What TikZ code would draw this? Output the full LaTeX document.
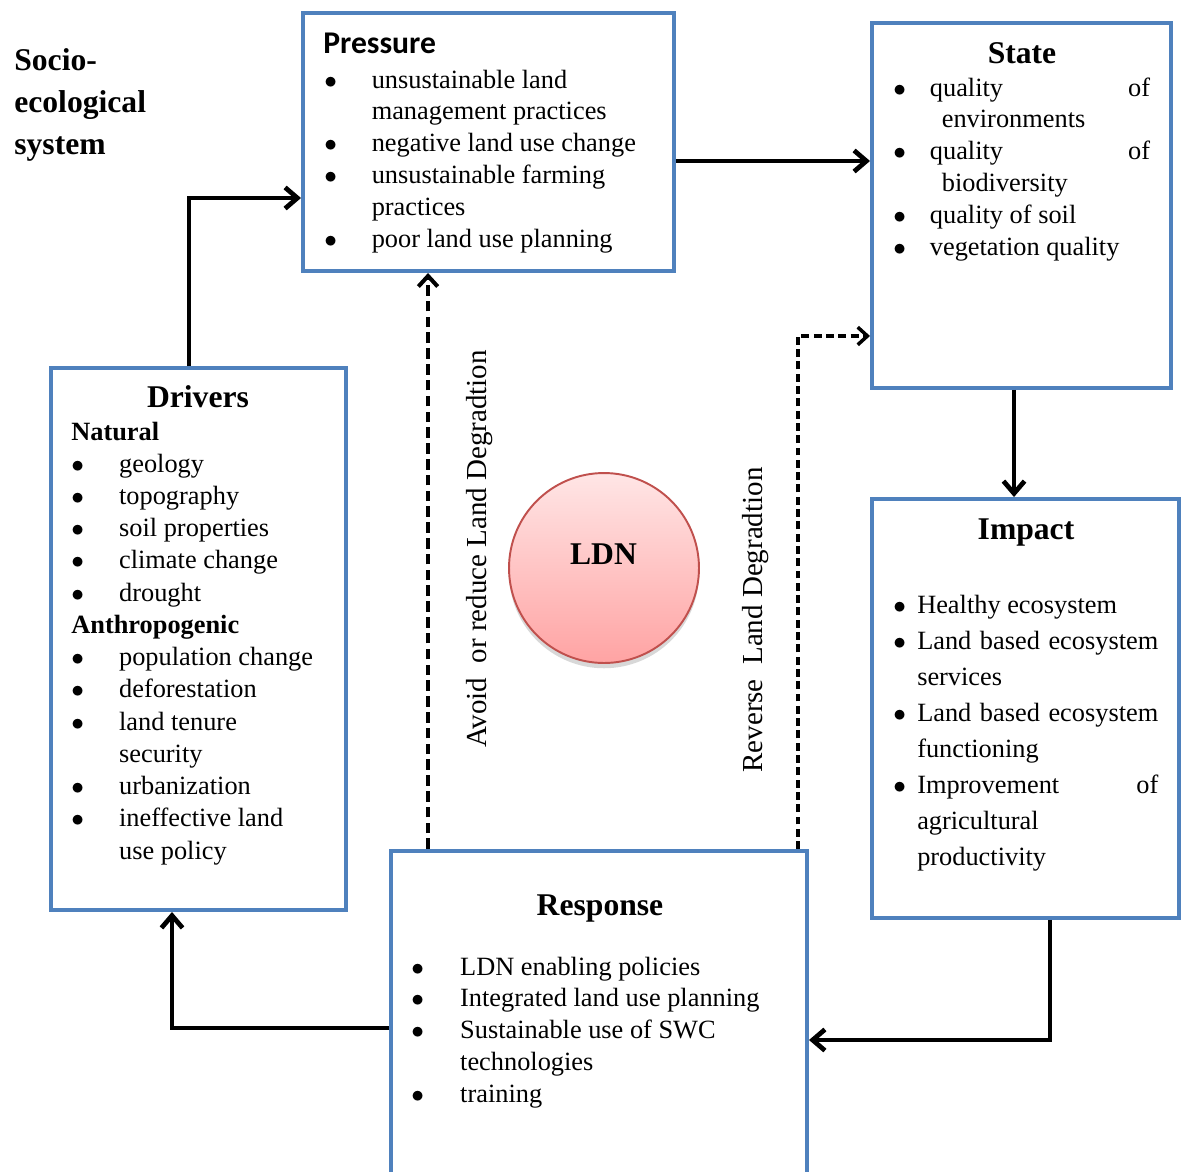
\documentclass[tikz,border=0pt]{standalone}
\usepackage{fontspec}
\setmainfont{Liberation Serif}
\newfontfamily\calibrifont{Carlito}
\usetikzlibrary{arrows.meta, calc, shadows}
\definecolor{boxblue}{HTML}{4F81BD}
\definecolor{ldnborder}{HTML}{C0504D}
\newcommand{\bodyfont}{\fontsize{15}{18.2}\selectfont}
\newcommand{\headfont}{\fontsize{18}{21}\selectfont\bfseries}
% the round bullet of the lists
\newcommand{\blt}{$\bullet$}
% bullet rows: width of the bullet column, then the rows
\newcommand{\bulletrows}[2]{\begin{tabular}[t]{@{}p{#1}@{}l@{}}#2\end{tabular}}

\tikzset{
  dpsrbox/.style={draw=boxblue, line width=2.3pt, fill=white, inner sep=0pt},
  boxtext/.style={font=\bodyfont, inner sep=0pt, anchor=base west},
  boxtitle/.style={font=\headfont, inner sep=0pt, anchor=base},
  flow/.style={line width=2.7pt, -{Straight Barb[length=7pt, width=12pt]}},
  avoidflow/.style={line width=2.3pt, dash pattern=on 6pt off 3pt,
    -{Straight Barb[length=6pt, width=11pt]}},
  reverseflow/.style={line width=2pt, dash pattern=on 4.5pt off 2.5pt,
    -{Straight Barb[length=5.5pt, width=10pt]}},
  ldncircle/.style={circle, draw=ldnborder, line width=1.1pt, minimum size=3.8cm,
    top color=red!10, bottom color=red!36,
    drop shadow={shadow xshift=0pt, shadow yshift=-3pt, opacity=0.3}},
}

\begin{document}
\begin{tikzpicture}[x=0.02cm, y=-0.02cm]

  % Page of 1183 by 1171 units, top left at the origin, y running down.
  \fill[white] (0,0) rectangle (1183,1171);
  \useasboundingbox (0,0) rectangle (1183,1171);

  % The five DPSIR boxes.
  \node[dpsrbox, minimum width=7.42cm, minimum height=5.16cm] (pressure) at (488.5,142) {};
  \node[dpsrbox, minimum width=5.98cm, minimum height=7.30cm] (state) at (1021.5,205.5) {};
  \node[dpsrbox, minimum width=6.14cm, minimum height=8.38cm] (impact) at (1025.5,708.5) {};
  \node[dpsrbox, minimum width=8.32cm, minimum height=6.78cm] (response) at (599,1020.5) {};
  \node[dpsrbox, minimum width=5.90cm, minimum height=10.84cm] (drivers) at (198.5,639) {};

  \node[font=\fontsize{18}{24.1}\selectfont\bfseries, inner sep=0pt, anchor=base west] (system) at (14,70)
    {\begin{tabular}[t]{@{}l@{}}Socio-\\ecological\\system\end{tabular}};

  % Pressure
  \node[boxtitle, anchor=base west] (pressuretitle) at (323,53) {\calibrifont Pressure};
  \node[boxtext] (pressuretext) at (324,88) {\bulletrows{27pt}{%
    \blt & unsustainable land\\
         & management practices\\
    \blt & negative land use change\\
    \blt & unsustainable farming\\
         & practices\\
    \blt & poor land use planning}};

  % State
  \node[boxtitle] (statetitle) at (1022,63) {State};
  \node[boxtext] (statetext) at (893,96) {\bulletrows{20.8pt}{%
    \blt & \makebox[125.3pt][s]{quality of}\\
         & \hspace*{6.8pt}environments\\
    \blt & \makebox[125.3pt][s]{quality of}\\
         & \hspace*{6.8pt}biodiversity\\
    \blt & quality of soil\\
    \blt & vegetation quality}};

  % Impact
  \node[boxtitle] (impacttitle) at (1026,539) {Impact};
  \node[boxtext, font=\fontsize{15}{20.5}\selectfont] (impacttext) at (893,613) {\bulletrows{13.6pt}{%
    \blt & Healthy ecosystem\\
    \blt & \makebox[137.2pt][s]{Land based ecosystem}\\
         & services\\
    \blt & \makebox[137.2pt][s]{Land based ecosystem}\\
         & functioning\\
    \blt & \makebox[137.2pt][s]{Improvement of}\\
         & agricultural\\
         & productivity}};

  % Response
  \node[boxtitle] (responsetitle) at (600,915) {Response};
  \node[boxtext] (responsetext) at (411,975) {\bulletrows{27.8pt}{%
    \blt & LDN enabling policies\\
    \blt & Integrated land use planning\\
    \blt & Sustainable use of SWC\\
         & technologies\\
    \blt & training}};

  % Drivers
  \node[boxtitle] (driverstitle) at (198,407) {Drivers};
  \node[boxtext, font=\fontsize{15}{18.35}\selectfont] (driverstext) at (71,440) {\bulletrows{27.2pt}{%
    \multicolumn{2}{@{}l@{}}{\bfseries Natural}\\
    \blt & geology\\
    \blt & topography\\
    \blt & soil properties\\
    \blt & climate change\\
    \blt & drought\\
    \multicolumn{2}{@{}l@{}}{\bfseries Anthropogenic}\\
    \blt & population change\\
    \blt & deforestation\\
    \blt & land tenure\\
         & security\\
    \blt & urbanization\\
    \blt & ineffective land\\
         & use policy}};

  % LDN in the middle of the loop.
  \node[ldncircle] (ldn) at (604,568) {};
  \node[boxtitle] (ldntext) at (603.5,564) {LDN};

  % The DPSIR loop.
  \coordinate (pout) at ([yshift=-0.38cm]pressure.east);
  \coordinate (sout) at ([xshift=-0.15cm]state.south);
  \coordinate (iout) at ([xshift=0.49cm]impact.south);
  \draw[flow] ([xshift=-0.19cm]drivers.north) |- ([yshift=-1.12cm]pressure.west);
  \draw[flow] (pout) -- (pout -| state.west);
  \draw[flow] (sout) -- (sout |- impact.north);
  \draw[flow] (iout) |- ([yshift=-0.39cm]response.east);
  \draw[flow] ([yshift=-0.15cm]response.west) -| ([xshift=-0.53cm]drivers.south);

  % What the responses do.
  \coordinate (ravoid) at ([xshift=-3.42cm]response.north);
  \coordinate (rreverse) at ([xshift=3.98cm]response.north);
  \draw[avoidflow] (ravoid) -- (ravoid |- pressure.south);
  \draw[reverseflow] (rreverse) |- ([yshift=-2.61cm]state.west);
  \node[font=\fontsize{16.5}{20}\selectfont, rotate=90, anchor=base, inner sep=0pt] (avoidlabel)
    at (486,549) {Avoid\ \ or reduce Land Degradtion};
  \node[font=\fontsize{16.5}{20}\selectfont, rotate=90, anchor=base, inner sep=0pt] (reverselabel)
    at (762,620) {Reverse\ \ Land Degradtion};

\end{tikzpicture}
\end{document}
